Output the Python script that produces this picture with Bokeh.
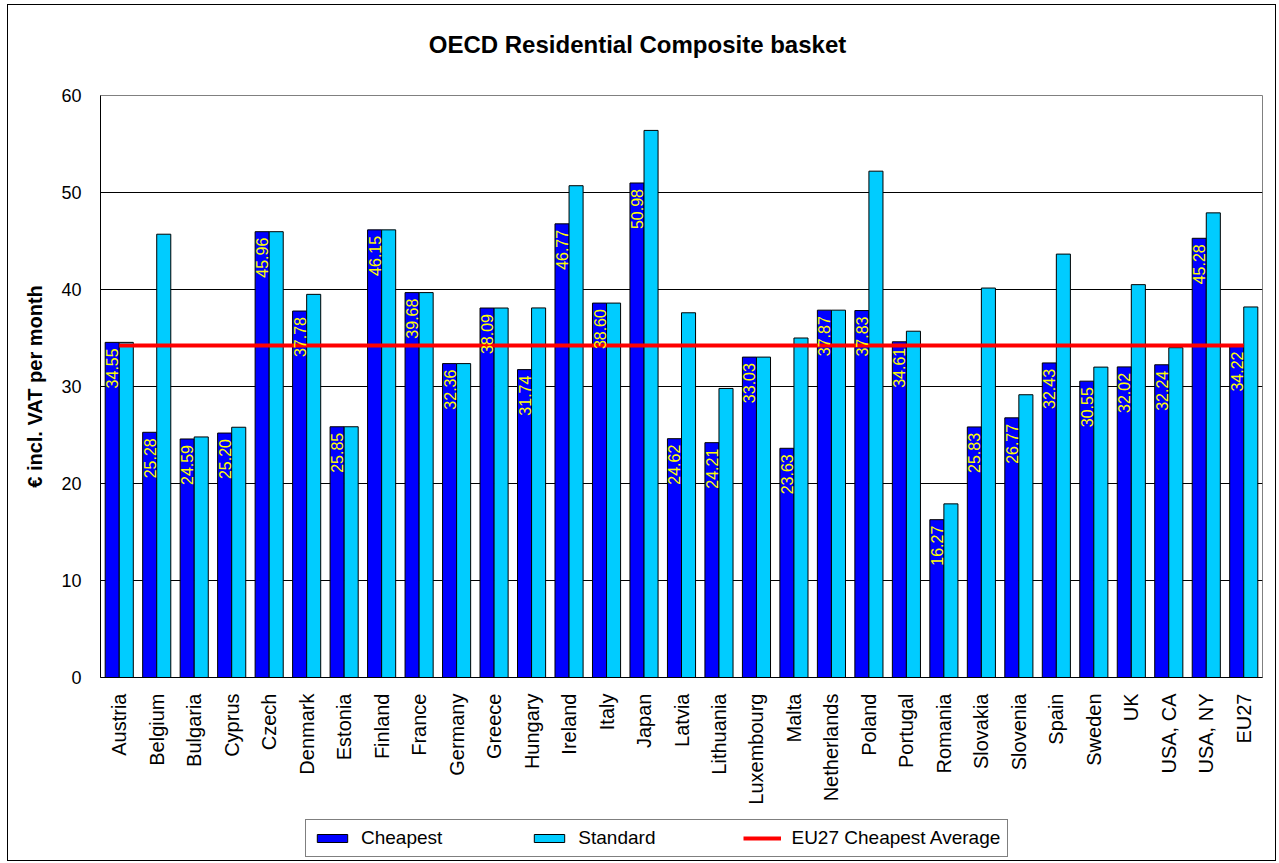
import math
from bokeh.plotting import figure
from bokeh.layouts import column
from bokeh.models import (Range1d, FixedTicker, Legend, LegendItem, ColumnDataSource, Label)
from bokeh.core.properties import value
from bokeh.embed import file_html
from bokeh.resources import INLINE

countries = ["Austria", "Belgium", "Bulgaria", "Cyprus", "Czech", "Denmark", "Estonia",
             "Finland", "France", "Germany", "Greece", "Hungary", "Ireland", "Italy", "Japan",
             "Latvia", "Lithuania", "Luxembourg", "Malta", "Netherlands", "Poland", "Portugal",
             "Romania", "Slovakia", "Slovenia", "Spain", "Sweden", "UK", "USA, CA", "USA, NY",
             "EU27"]
cheapest = [34.55, 25.28, 24.59, 25.20, 45.96, 37.78, 25.85, 46.15, 39.68, 32.36, 38.09,
            31.74, 46.77, 38.60, 50.98, 24.62, 24.21, 33.03, 23.63, 37.87, 37.83, 34.61,
            16.27, 25.83, 26.77, 32.43, 30.55, 32.02, 32.24, 45.28, 34.22]
standard = [34.55, 45.7, 24.8, 25.8, 45.96, 39.5, 25.85, 46.15, 39.68, 32.36, 38.09,
            38.1, 50.7, 38.60, 56.4, 37.6, 29.8, 33.03, 35.0, 37.87, 52.2, 35.7,
            17.9, 40.15, 29.15, 43.65, 32.0, 40.5, 34.0, 47.9, 38.2]
eu27_average = 34.22
y_ticks = [0, 10, 20, 30, 40, 50, 60]
title_text = "OECD Residential Composite basket"

FONT = "Liberation Sans"
C_CHEAP = "#0000FF"
C_STD = "#00CCFF"
C_AVG = "#FF0000"
n = len(countries)
idx = list(range(n))
bw = 0.375
W = 1267
FRAME_W = 1162

src = ColumnDataSource(dict(
    x=idx,
    xc=[i - bw / 2 for i in idx],
    xs=[i + bw / 2 for i in idx],
    cheapest=cheapest,
    standard=standard,
    lab=["%.2f" % v for v in cheapest],
))

# ---- title strip
pt = figure(width=W, height=80, output_backend="svg", toolbar_location=None,
            x_range=Range1d(0, FRAME_W), y_range=Range1d(0, 80),
            min_border_left=0, min_border_right=0, min_border_top=0, min_border_bottom=0,
            background_fill_color="white", border_fill_color="white")
pt.axis.visible = False
pt.grid.visible = False
pt.outline_line_color = None
pt.add_layout(Label(x=537, y=41, text=title_text, text_align="center",
                    text_baseline="middle", text_font=FONT, text_font_size="24px",
                    text_font_style="bold", text_color="black"))

# ---- main chart
p = figure(width=W, height=732, output_backend="svg", toolbar_location=None,
           x_range=Range1d(-0.5, n - 0.5), y_range=Range1d(0, 60),
           min_border_left=92, min_border_right=13, min_border_top=10, min_border_bottom=140,
           background_fill_color="white", border_fill_color="white")
p.outline_line_color = "#808080"
p.outline_line_width = 1

p.vbar(x="xc", top="cheapest", width=bw, source=src, fill_color=C_CHEAP,
       line_color="black", line_width=1)
p.vbar(x="xs", top="standard", width=bw, source=src, fill_color=C_STD,
       line_color="black", line_width=1)
p.line(x=[idx[0], idx[-1]], y=[eu27_average, eu27_average], line_color=C_AVG, line_width=4)
p.text(x="xc", y="cheapest", text="lab", source=src, angle=math.pi / 2,
       text_align="right", text_baseline="middle", y_offset=6,
       text_color="#FFFF00", text_font=value(FONT), text_font_size="16px")

p.yaxis.ticker = FixedTicker(ticks=y_ticks)
p.yaxis.major_tick_line_color = None
p.yaxis.minor_tick_line_color = None
p.yaxis.major_label_text_font = FONT
p.yaxis.major_label_text_font_size = "18px"
p.yaxis.major_label_text_color = "black"
p.yaxis.major_label_standoff = 13
p.yaxis.axis_line_color = "black"
p.yaxis.axis_label = "€ incl. VAT per month"
p.yaxis.axis_label_text_font = FONT
p.yaxis.axis_label_text_font_size = "20px"
p.yaxis.axis_label_text_font_style = "bold"
p.yaxis.axis_label_text_color = "black"
p.yaxis.axis_label_standoff = 12

p.xaxis.ticker = FixedTicker(ticks=idx)
p.xaxis.major_label_overrides = {i: c for i, c in zip(idx, countries)}
p.xaxis.major_label_orientation = math.pi / 2
p.xaxis.major_tick_line_color = None
p.xaxis.minor_tick_line_color = None
p.xaxis.major_label_text_font = FONT
p.xaxis.major_label_text_font_size = "20px"
p.xaxis.major_label_text_color = "black"
p.xaxis.major_label_standoff = 10
p.xaxis.axis_line_color = "black"

p.xgrid.grid_line_color = None
p.ygrid.grid_line_color = "black"
p.ygrid.grid_line_width = 1

# ---- legend strip
pl = figure(width=W, height=43, output_backend="svg", toolbar_location=None,
            x_range=Range1d(0, 1), y_range=Range1d(0, 1),
            min_border_left=0, min_border_right=0, min_border_top=0, min_border_bottom=0,
            background_fill_color="white", border_fill_color="white")
pl.axis.visible = False
pl.grid.visible = False
pl.outline_line_color = None
e = ColumnDataSource(dict(x=[-5.0, -6.0], y=[-5.0, -6.0]))
l1 = pl.vbar(x="x", top="y", width=0.5, source=e, fill_color=C_CHEAP, line_color="black")
l2 = pl.vbar(x="x", top="y", width=0.5, source=e, fill_color=C_STD, line_color="black")
l3 = pl.line(x="x", y="y", source=e, line_color=C_AVG, line_width=4)
legend = Legend(items=[LegendItem(label="Cheapest", renderers=[l1]),
                       LegendItem(label="Standard", renderers=[l2]),
                       LegendItem(label="EU27 Cheapest Average", renderers=[l3])],
                orientation="horizontal", location=(205, 3),
                label_text_font=FONT, label_text_font_size="19px", label_text_color="black",
                glyph_width=38, glyph_height=10, label_standoff=10, spacing=88,
                padding=7, margin=0, border_line_color="black", border_line_width=1,
                background_fill_color="white", background_fill_alpha=1)
pl.add_layout(legend, "center")

layout = column(pt, p, pl, spacing=0)
layout.styles = {"border": "1px solid black", "margin-left": "7px", "margin-top": "4px"}

open("out.html", "w").write(file_html(layout, INLINE))
